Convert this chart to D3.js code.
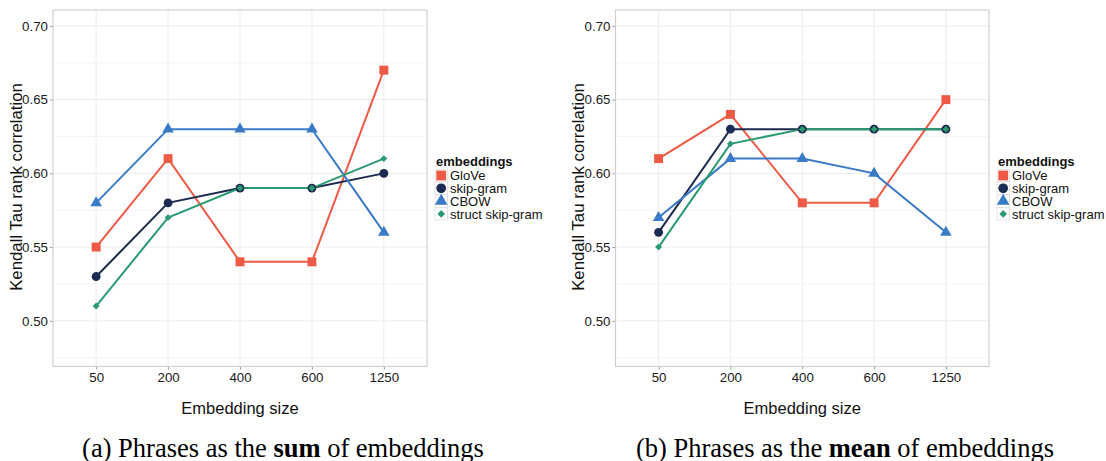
<!DOCTYPE html>
<html>
<head>
<meta charset="utf-8">
<script src="https://cdn.jsdelivr.net/npm/d3@7"></script>
<style>
  body { margin: 0; background: #fff; }
  svg { font-family: "Liberation Sans", Arial, sans-serif; }
</style>
</head>
<body>
<script>
// embedding sizes on the x axis (discrete)
var sizes = ["50", "200", "400", "600", "1250"];
var seriesNames = ["GloVe", "skip-gram", "CBOW", "struct skip-gram"];
var yTicks = [0.50, 0.55, 0.60, 0.65, 0.70];

// (a) sum of embeddings
var sumGlove = [0.55, 0.61, 0.54, 0.54, 0.67];
var sumSkip = [0.53, 0.58, 0.59, 0.59, 0.60];
var sumCbow = [0.58, 0.63, 0.63, 0.63, 0.56];
var sumStruct = [0.51, 0.57, 0.59, 0.59, 0.61];

// (b) mean of embeddings
var meanGlove = [0.61, 0.64, 0.58, 0.58, 0.65];
var meanSkip = [0.56, 0.63, 0.63, 0.63, 0.63];
var meanCbow = [0.57, 0.61, 0.61, 0.60, 0.56];
var meanStruct = [0.55, 0.62, 0.63, 0.63, 0.63];

var colors = ["#EE5A45", "#1B2A50", "#3A7BC8", "#2A9A70"];
var shapes = [d3.symbolSquare, d3.symbolCircle, d3.symbolTriangle, d3.symbolSquare];
var shapeSize = [80, 62, 58, 24];
var shapeRot = [0, 0, 0, 45];

var width = 1106, height = 461;
var svg = d3.select("body").append("svg").attr("width", width).attr("height", height);

function marker(sel, k, scale) {
    sel.attr("d", d3.symbol().type(shapes[k]).size(shapeSize[k] * (scale || 1)))
        .attr("fill", colors[k]);
}

function panel(opts) {
    var series = opts.series;
    var x0 = opts.left, x1 = opts.right, top = 10, bottom = 366.5;

    var step = (x1 - x0) / 5.2;
    var xScale = d3.scalePoint().domain(sizes)
        .range([x0 + 0.6 * step, x1 - 0.6 * step]);
    var yScale = d3.scaleLinear().domain([0.469, 0.7108]).range([bottom, top]);

    var g = svg.append("g");

    // grid lines, minor then major
    var minor = [0.475, 0.525, 0.575, 0.625, 0.675];
    g.selectAll(".minor").data(minor).enter().append("line")
        .attr("x1", x0).attr("x2", x1)
        .attr("y1", d => yScale(d)).attr("y2", d => yScale(d))
        .attr("stroke", "#f5f5f5").attr("stroke-width", 1);
    g.selectAll(".major").data(yTicks).enter().append("line")
        .attr("x1", x0).attr("x2", x1)
        .attr("y1", d => yScale(d)).attr("y2", d => yScale(d))
        .attr("stroke", "#ececec").attr("stroke-width", 1);
    g.selectAll(".vgrid").data(sizes).enter().append("line")
        .attr("y1", top).attr("y2", bottom)
        .attr("x1", d => xScale(d)).attr("x2", d => xScale(d))
        .attr("stroke", "#ececec").attr("stroke-width", 1);

    // axes
    var yAxis = g.append("g").attr("transform", "translate(" + x0 + ",0)")
        .call(d3.axisLeft(yScale).tickValues(yTicks).tickFormat(d3.format(".2f")).tickSize(3).tickPadding(2));
    var xAxis = g.append("g").attr("transform", "translate(0," + bottom + ")")
        .call(d3.axisBottom(xScale).tickSize(3).tickPadding(3));
    [xAxis, yAxis].forEach(function(a) {
        a.select(".domain").remove();
        a.selectAll("line").attr("stroke", "#999");
        a.selectAll("text").attr("fill", "#1a1a1a").style("font-size", "13.3px")
            .style("font-family", "Liberation Sans, Arial, sans-serif");
    });

    // panel border
    g.append("rect").attr("x", x0).attr("y", top)
        .attr("width", x1 - x0).attr("height", bottom - top)
        .attr("fill", "none").attr("stroke", "#cfcfcf").attr("stroke-width", 1.2);

    var line = d3.line().x((d, i) => xScale(sizes[i])).y(d => yScale(d));

    series.forEach(function(vals, k) {
        g.append("path").datum(vals).attr("d", line)
            .attr("fill", "none").attr("stroke", colors[k]).attr("stroke-width", 2);
    });
    series.forEach(function(vals, k) {
        g.selectAll(".pt" + k).data(vals).enter().append("path")
            .call(marker, k)
            .attr("transform", (d, i) => "translate(" + xScale(sizes[i]) + "," + yScale(d) + ") rotate(" + shapeRot[k] + ")");
    });

    // axis titles
    g.append("text").attr("x", (x0 + x1) / 2).attr("y", 414)
        .attr("text-anchor", "middle").style("font-size", "16.5px").attr("fill", "#111")
        .text("Embedding size");
    g.append("text")
        .attr("transform", "translate(" + opts.ytitleX + ",187) rotate(-90)")
        .attr("text-anchor", "middle").style("font-size", "16.8px").attr("fill", "#111")
        .text("Kendall Tau rank correlation");

    // legend
    var lx = x1 + 8, ly = 166;
    g.append("text").attr("x", lx + 1).attr("y", ly)
        .style("font-size", "13px").style("font-weight", "bold").attr("fill", "#111").text("embeddings");
    seriesNames.forEach(function(name, k) {
        var cy = ly + 9.5 + k * 12.8;
        g.append("rect").attr("x", lx).attr("y", cy - 6.2).attr("width", 12.4).attr("height", 12.4)
            .attr("fill", "#fff").attr("stroke", "#dedede").attr("stroke-width", 0.8);
        g.append("path").call(marker, k, 1.2)
            .attr("transform", "translate(" + (lx + 6.2) + "," + cy + ") rotate(" + shapeRot[k] + ")");
        g.append("text").attr("x", lx + 15).attr("y", cy + 4.6)
            .style("font-size", "13px").attr("fill", "#111").text(name);
    });

    // caption
    var cap = g.append("text").attr("x", opts.capX).attr("y", 457)
        .attr("text-anchor", "middle")
        .style("font-family", "Liberation Serif, Times New Roman, serif")
        .style("font-size", "26.5px").attr("fill", "#000");
    cap.append("tspan").text(opts.capLetter + " Phrases as the ");
    cap.append("tspan").style("font-weight", "bold").text(opts.capWord);
    cap.append("tspan").text(" of embeddings");
}

panel({
    series: [sumGlove, sumSkip, sumCbow, sumStruct],
    left: 53, right: 427, ytitleX: 22, capX: 283, capLetter: "(a)", capWord: "sum"
});
panel({
    series: [meanGlove, meanSkip, meanCbow, meanStruct],
    left: 615.5, right: 989, ytitleX: 584, capX: 845, capLetter: "(b)", capWord: "mean"
});
</script>
</body>
</html>
